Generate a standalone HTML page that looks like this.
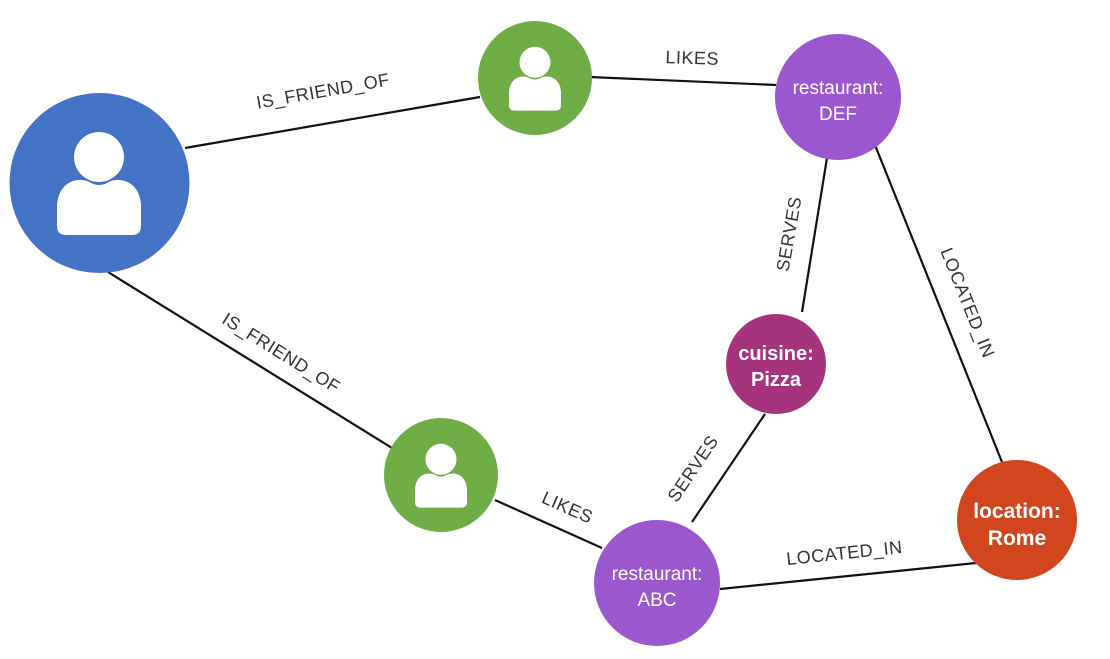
<!DOCTYPE html>
<html><head><meta charset="utf-8"><style>html,body{margin:0;padding:0;background:#fff}svg{display:block}</style></head>
<body>
<svg width="1110" height="659" viewBox="0 0 1110 659" xmlns="http://www.w3.org/2000/svg" font-family="'Liberation Sans', sans-serif">
<defs>
<g id="person">
<circle cx="0" cy="-27" r="25" fill="#fff"/>
<path d="M-26,-3 Q-16,-6 -8,-1 Q0,3 8,-1 Q16,-6 26,-3 Q40,2 42,20 L42,42 Q42,51 33,51 L-33,51 Q-42,51 -42,42 L-42,20 Q-40,2 -26,-3 Z" fill="#fff"/>
</g>
</defs>
<g stroke="#111" stroke-width="2.2">
<line x1="185" y1="148" x2="480" y2="97"/>
<line x1="590" y1="77" x2="776" y2="85"/>
<line x1="827" y1="158" x2="802" y2="312"/>
<line x1="875" y1="145" x2="1002" y2="462"/>
<line x1="108" y1="272" x2="392" y2="448"/>
<line x1="495" y1="500" x2="602" y2="548"/>
<line x1="692" y1="522" x2="765" y2="414"/>
<line x1="720" y1="589" x2="976" y2="563"/>
</g>
<g fill="#333" font-size="18" letter-spacing="0.5" text-anchor="middle">
<text transform="translate(324,97) rotate(-10)">IS_FRIEND_OF</text>
<text transform="translate(692,64) rotate(2)">LIKES</text>
<text transform="translate(795,235) rotate(-80)">SERVES</text>
<text transform="translate(962,305) rotate(68)">LOCATED_IN</text>
<text transform="translate(278,358) rotate(32)">IS_FRIEND_OF</text>
<text transform="translate(565,513) rotate(24)">LIKES</text>
<text transform="translate(698,472) rotate(-56)">SERVES</text>
<text transform="translate(845,559) rotate(-6)">LOCATED_IN</text>
</g>
<circle cx="99.5" cy="183" r="90" fill="#4472C4"/>
<use href="#person" transform="translate(99,184)"/>
<circle cx="535" cy="78" r="57" fill="#70AD47"/>
<use href="#person" transform="translate(535,79) scale(0.62)"/>
<circle cx="441" cy="475" r="57" fill="#70AD47"/>
<use href="#person" transform="translate(441,476) scale(0.62)"/>
<circle cx="838" cy="97" r="63" fill="#9B57CD"/>
<circle cx="657" cy="583" r="63" fill="#9B57CD"/>
<circle cx="776" cy="364" r="50" fill="#A6337E"/>
<circle cx="1017" cy="520" r="60" fill="#D2461F"/>
<g fill="#fff" text-anchor="middle">
<text x="838" y="94" font-size="19">restaurant:</text>
<text x="838" y="120" font-size="19">DEF</text>
<text x="657" y="580" font-size="19">restaurant:</text>
<text x="657" y="606" font-size="19">ABC</text>
<text x="776" y="360" font-size="20" font-weight="bold">cuisine:</text>
<text x="776" y="386" font-size="20" font-weight="bold">Pizza</text>
<text x="1017" y="518" font-size="21" font-weight="bold">location:</text>
<text x="1017" y="545" font-size="21" font-weight="bold">Rome</text>
</g>
</svg>
</body></html>
